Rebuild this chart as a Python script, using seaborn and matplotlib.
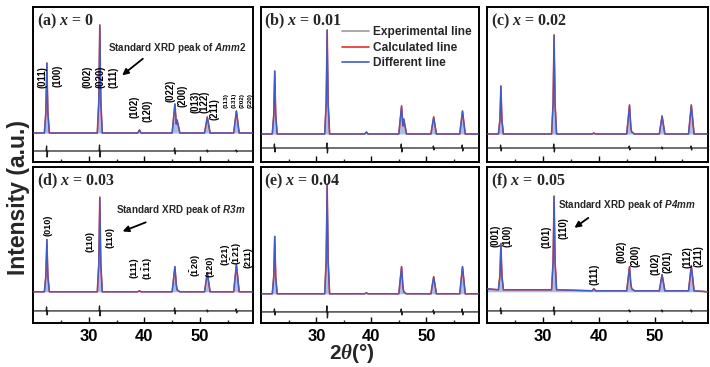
import matplotlib
matplotlib.use("Agg")
import matplotlib.pyplot as plt
from matplotlib.lines import Line2D
from matplotlib.ticker import FixedLocator
import numpy as np
import pandas as pd
import seaborn as sns

# ---------------- data ----------------
# 2theta sampling points of the traced refinement curves (shared by all panels)
pattern_x = [19.9, 21.95, 22.22, 22.4, 22.58, 22.85, 31.5, 31.77, 31.95, 32.13, 32.4,
             38.8, 39.1, 39.4, 45.0, 45.5, 45.75, 45.9, 46.4, 50.85, 51.35, 51.85,
             56.1, 56.6, 57.1, 59.6]
# intensity (a.u.) of each panel at those points
int_a = [29, 29, 50, 99, 50, 29, 29, 61, 137, 61, 29, 29, 32, 29, 29, 58, 38, 42, 29, 29, 45, 29, 29, 51, 29, 29]
int_b = [28, 28, 47, 91, 47, 28, 28, 59, 132, 59, 28, 28, 30, 28, 28, 56, 36, 43, 28, 28, 45, 28, 28, 51, 28, 28]
int_c = [28, 28, 42, 76, 42, 28, 28, 58, 127, 58, 28, 28, 29, 28, 28, 57, 34, 30, 28, 28, 46, 28, 28, 57, 28, 28]
int_d = [31, 31, 47, 83, 47, 31, 31, 59, 125, 59, 31, 31, 32, 31, 31, 56, 38, 33, 31, 31, 50, 31, 31, 58, 31, 31]
int_e = [29, 29, 46, 86, 46, 29, 29, 62, 138, 62, 29, 29, 30, 29, 29, 56, 36, 31, 29, 29, 46, 29, 29, 56, 29, 29]
int_f = [34, 33, 47, 79, 47, 33, 33, 61, 126, 61, 33, 32, 34, 32, 32, 56, 38, 34, 32, 32, 48, 32, 32, 57, 32, 31]

# difference curve sampling points and values
diff_x = [19.9, 22.25, 22.35, 22.45, 22.55, 31.8, 31.9, 32.0, 32.1, 45.35, 45.45, 45.55, 45.65,
          51.2, 51.3, 51.4, 51.5, 56.45, 56.55, 56.65, 56.75, 59.6]
diff_a = [11, 11, 16, 5, 11, 11, 17, 5, 11, 11, 14, 8, 11, 11, 12, 10, 11, 11, 12, 10, 11, 11]
diff_b = [14, 14, 18, 10, 14, 14, 19, 9, 14, 14, 18, 10, 14, 14, 16, 12, 14, 14, 17, 11, 14, 14]
diff_c = [14, 14, 17, 11, 14, 14, 18, 10, 14, 14, 16, 12, 14, 14, 15, 13, 14, 14, 16, 12, 14, 14]
diff_d = [12, 12, 16, 8, 12, 12, 17, 7, 12, 12, 15, 9, 12, 12, 13, 11, 12, 12, 14, 10, 12, 12]
diff_e = [11, 11, 14, 8, 11, 11, 17, 5, 11, 11, 14, 8, 11, 11, 13, 9, 11, 11, 14, 8, 11, 11]
diff_f = [12, 12, 15, 9, 12, 12, 16, 8, 12, 12, 13, 11, 12, 12, 13, 11, 12, 12, 13, 11, 12, 12]

panel_letters = ["(a)", "(b)", "(c)", "(d)", "(e)", "(f)"]
panel_x_values = ["0", "0.01", "0.02", "0.03", "0.04", "0.05"]

# Miller index labels: text, 2theta position, height of label bottom
labels_a = ["(011)", "(100)", "(002)", "(020)", "(111)", "(102)", "(120)", "(022)", "(200)",
            "(013)", "(122)", "(211)"]
labels_a_x = [21.7, 24.3, 29.8, 32.1, 34.4, 38.3, 40.6, 44.7, 46.8, 49.2, 50.9, 52.6]
labels_a_y = [74, 75, 74, 74, 74, 44, 40, 60, 55, 49, 49, 42]
small_a = ["(113)", "(131)", "(202)", "(220)"]
small_a_x = [54.7, 56.2, 57.7, 59.1]
small_a_y = [54, 54, 54, 54]

labels_d = ["(010)", "(110)", "(110)", "(111)", r"(1$\mathbf{\bar{1}}$1)", r"($\mathbf{\bar{1}}$20)",
            "(120)", "(121)", r"($\mathbf{\bar{1}}$21)", "(211)"]
labels_d_x = [22.6, 30.1, 33.8, 38.2, 40.7, 49.3, 51.8, 54.6, 56.7, 58.75]
labels_d_y = [86, 71, 75, 45, 43, 46, 46, 58, 58, 55]

labels_f = ["(001)", "(100)", "(101)", "(110)", "(111)", "(002)", "(200)", "(102)", "(201)",
            "(112)", "(211)"]
labels_f_x = [21.5, 23.6, 30.6, 33.6, 39.3, 44.1, 46.5, 50.2, 52.4, 56.0, 57.9]
labels_f_y = [76, 76, 75, 83, 38, 60, 56, 48, 50, 55, 56]

standard_texts = [r"Standard XRD peak of $\mathsf{Amm}$2", r"Standard XRD peak of $\mathsf{R3m}$",
                  r"Standard XRD peak of $\mathsf{P4mm}$"]

legend_labels = ["Experimental line", "Calculated line", "Different line"]

# ---------------- style ----------------
sns.set_theme(style="white")
plt.rcParams["font.family"] = ["Liberation Sans", "DejaVu Sans"]
plt.rcParams["font.weight"] = "bold"
plt.rcParams["mathtext.fontset"] = "custom"
plt.rcParams["mathtext.it"] = "Liberation Serif:bold:italic"
plt.rcParams["mathtext.rm"] = "Liberation Serif:bold"
plt.rcParams["mathtext.sf"] = "Liberation Sans:bold:italic"
plt.rcParams["mathtext.bf"] = "Liberation Sans:bold"

RED = "#e8302c"
BLUE = "#3b5fc8"
FILL = "#a9bfe9"
DARK = "#1e1e1e"

fig = plt.figure(figsize=(7.1, 3.67), dpi=100)

lefts = [0.0465, 0.3676, 0.6859]
widths = [0.3099, 0.3070, 0.3113]
row_bottoms = [0.5586, 0.1199]
row_heights = [0.4223, 0.4251]

intensities = [int_a, int_b, int_c, int_d, int_e, int_f]
diffs = [diff_a, diff_b, diff_c, diff_d, diff_e, diff_f]

axes = []
for i in range(6):
    r, c = divmod(i, 3)
    ax = fig.add_axes([lefts[c], row_bottoms[r], widths[c], row_heights[r]])
    axes.append(ax)
    df = pd.DataFrame({"x": pattern_x, "y": intensities[i]})
    dd = pd.DataFrame({"x": diff_x, "y": diffs[i]})
    base = min(intensities[i])
    ax.fill_between(df["x"], df["y"], base, color=FILL, lw=0, zorder=1)
    sns.lineplot(data=df, x="x", y="y", ax=ax, color=RED, lw=1.15, sort=False,
                 estimator=None, zorder=2)
    sns.lineplot(data=df, x="x", y="y", ax=ax, color=BLUE, lw=0.9, sort=False,
                 estimator=None, zorder=3)
    sns.lineplot(data=dd, x="x", y="y", ax=ax, color=DARK, lw=0.9, sort=False,
                 estimator=None, zorder=3)
    ax.set_xlim(19.9, 59.6)
    ax.set_ylim(0, 155)
    ax.set_xlabel("")
    ax.set_ylabel("")
    ax.set_yticks([])
    ax.xaxis.set_major_locator(FixedLocator([30, 40, 50]))
    ax.xaxis.set_minor_locator(FixedLocator([25, 35, 45, 55]))
    ax.tick_params(axis="x", which="major", direction="in", length=4, width=1,
                   bottom=True, top=False, labelsize=12, pad=4, colors="black")
    ax.tick_params(axis="x", which="minor", direction="in", length=2.5, width=1,
                   bottom=True, top=False)
    if r == 0:
        ax.tick_params(axis="x", labelbottom=False)
    for lab in ax.get_xticklabels():
        lab.set_fontweight("bold")
    for s in ax.spines.values():
        s.set_linewidth(1.4)
        s.set_color("black")
    ax.text(0.016, 0.905, panel_letters[i] + " $x$ = " + panel_x_values[i],
            transform=ax.transAxes, ha="left", va="center", fontsize=11.5,
            family=["Liberation Serif"], fontweight="bold")

# Miller index labels
def put_labels(ax, texts, xs, ys, size):
    for t, xv, yv in zip(texts, xs, ys):
        ax.text(xv, yv, t, rotation=90, ha="center", va="bottom", fontsize=size,
                fontweight="bold", color="black", zorder=5)

put_labels(axes[0], labels_a, labels_a_x, labels_a_y, 6.9)
put_labels(axes[0], small_a, small_a_x, small_a_y, 4.6)
put_labels(axes[3], labels_d, labels_d_x, labels_d_y, 6.5)
put_labels(axes[5], labels_f, labels_f_x, labels_f_y, 6.9)

# "Standard XRD peak" annotations with arrows
ann_axes = [axes[0], axes[3], axes[5]]
ann_text_xy = [(33.4, 114), (34.9, 112), (32.6, 117)]
ann_arrow_from = [(40.1, 105), (40.7, 101), (38.5, 106)]
ann_arrow_to = [(35.6, 85), (35.6, 90), (35.2, 93)]
for ax, txt, txy, a0, a1 in zip(ann_axes, standard_texts, ann_text_xy, ann_arrow_from, ann_arrow_to):
    ax.text(txy[0], txy[1], txt, ha="left", va="center", fontsize=7.1, fontweight="bold")
    ax.annotate("", xy=a1, xytext=a0,
                arrowprops=dict(arrowstyle="-|>", lw=1.3, color="black", mutation_scale=9))

# legend in panel (b)
handles = [Line2D([], [], color="#9a9a9a", lw=1.2),
           Line2D([], [], color=RED, lw=1.2),
           Line2D([], [], color=BLUE, lw=1.2)]
leg = axes[1].legend(handles, legend_labels, loc="upper left", bbox_to_anchor=(0.37, 0.875),
                     frameon=False, fontsize=8.6, handlelength=2.3, handletextpad=0.35,
                     labelspacing=0.28, borderpad=0, borderaxespad=0)
for t in leg.get_texts():
    t.set_fontweight("bold")

fig.text(0.026, 0.463, "Intensity (a.u.)", rotation=90, ha="center", va="center",
         fontsize=16.5, fontweight="bold")
fig.text(0.496, 0.038, r"2$\theta$(°)", ha="center", va="center", fontsize=15,
         fontweight="bold")

fig.savefig("out.png", dpi=100)
